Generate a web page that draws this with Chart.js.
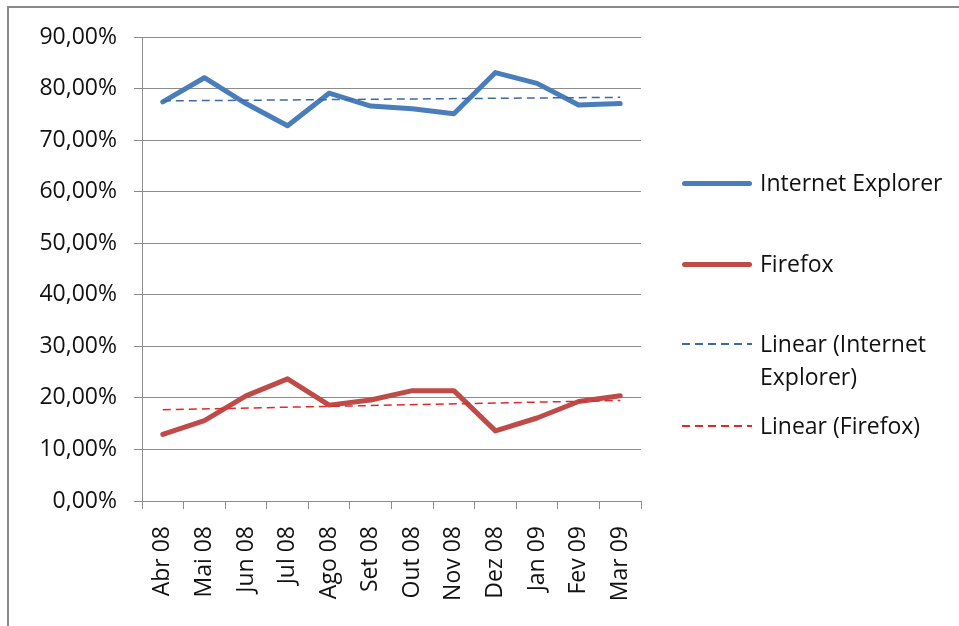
<!DOCTYPE html>
<html>
<head>
<meta charset="utf-8">
<script src="https://cdn.jsdelivr.net/npm/chart.js@4"></script>
<style>
  body { margin:0; background:#fff; font-family:"Open Sans", sans-serif; }
  #wrap { position:relative; width:959px; height:626px; overflow:hidden; }
  #frame { position:absolute; left:7px; top:6px; right:-4px; bottom:-4px; border-top:2px solid #8a8a8a; border-left:2px solid #8a8a8a; pointer-events:none; }
  #legend { position:absolute; left:682px; top:0; width:277px; height:626px; }
  .swatch { position:absolute; left:0; width:70px; }
  .txt { position:absolute; left:78px; font-size:23px; line-height:33px; color:#111; white-space:nowrap; }
</style>
</head>
<body>
<div id="wrap">
  <canvas id="browserChart"></canvas>
  <div id="frame"></div>
  <div id="legend"></div>
</div>
<script>
const months = ['Abr 08','Mai 08','Jun 08','Jul 08','Ago 08','Set 08','Out 08','Nov 08','Dez 08','Jan 09','Fev 09','Mar 09'];
const ieShare = [77.4, 82.1, 77.1, 72.8, 79.1, 76.6, 76.1, 75.1, 83.1, 81.0, 76.8, 77.1];
const ffShare = [12.9, 15.6, 20.4, 23.7, 18.6, 19.6, 21.4, 21.4, 13.6, 16.1, 19.3, 20.4];
// trend lines: first and last month only
const ieTrend = [77.6, null, null, null, null, null, null, null, null, null, null, 78.3];
const ffTrend = [17.7, null, null, null, null, null, null, null, null, null, null, 19.5];
const yTickLabels = ['0,00%','10,00%','20,00%','30,00%','40,00%','50,00%','60,00%','70,00%','80,00%','90,00%'];

const blue = '#4a7ebb', red = '#be4b48';
const blueTrend = '#3d69a3', redTrend = '#dd2a2a';

const font = { family:'"Open Sans", sans-serif', size:23 };

const ctx = document.getElementById('browserChart').getContext('2d');
const chart = new Chart(ctx, {
    type: 'line',
    data: {
        labels: months,
        datasets: [
            { label:'Linear (Internet Explorer)', data:ieTrend, borderColor:blueTrend, borderWidth:1.5, borderDash:[8,5], spanGaps:true, pointRadius:0, order:0 },
            { label:'Linear (Firefox)', data:ffTrend, borderColor:redTrend, borderWidth:1.5, borderDash:[8,5], spanGaps:true, pointRadius:0, order:0 },
            { label:'Internet Explorer', data:ieShare, borderColor:blue, borderWidth:5, pointRadius:0, tension:0, borderCapStyle:'round', borderJoinStyle:'round', order:1 },
            { label:'Firefox', data:ffShare, borderColor:red, borderWidth:5, pointRadius:0, tension:0, borderCapStyle:'round', borderJoinStyle:'round', order:1 }
        ]
    },
    options: {
        responsive: true,
        maintainAspectRatio: false,
        animation: false,
        layout: { padding: { left:0, top:37, right:318, bottom:0 } },
        plugins: { legend:{ display:false }, tooltip:{ enabled:false } },
        scales: {
            x: {
                offset: true,
                grid: { offset:true, drawOnChartArea:false, drawTicks:true, tickLength:8, color:'#8c8c8c' },
                border: { color:'#8c8c8c', width:1 },
                ticks: { minRotation:90, maxRotation:90, padding:17, color:'#111', font },
                afterFit(s) { s.height = 125; }
            },
            y: {
                min: 0, max: 90,
                grid: { color:'#8c8c8c', lineWidth:1, tickLength:8 },
                border: { color:'#8c8c8c', width:1 },
                ticks: { stepSize:10, padding:17, color:'#111', font, callback:(v, i) => yTickLabels[i] },
                afterFit(s) { s.width = 142; }
            }
        }
    }
});

// legend laid out like the original, to the right of the plot
const legendItems = [
    { text:['Internet Explorer'], color:blue, width:5, dashed:false, y:183 },
    { text:['Firefox'], color:red, width:5, dashed:false, y:264 },
    { text:['Linear (Internet', 'Explorer)'], color:blueTrend, width:1.5, dashed:true, y:344 },
    { text:['Linear (Firefox)'], color:redTrend, width:1.5, dashed:true, y:426 }
];
const legend = document.getElementById('legend');
legendItems.forEach(it => {
    const sw = document.createElement('div');
    sw.className = 'swatch';
    if (it.dashed) {
        sw.style.height = '2px';
        sw.style.top = (it.y - 1) + 'px';
        sw.style.background = `repeating-linear-gradient(90deg, ${it.color} 0 8px, transparent 8px 13px)`;
    } else {
        sw.style.height = it.width + 'px';
        sw.style.top = (it.y - it.width / 2) + 'px';
        sw.style.background = it.color;
        sw.style.borderRadius = '3px';
    }
    legend.appendChild(sw);
    const t = document.createElement('div');
    t.className = 'txt';
    t.style.top = (it.y - 17) + 'px';
    t.innerHTML = it.text.join('<br>');
    legend.appendChild(t);
});
</script>
</body>
</html>
